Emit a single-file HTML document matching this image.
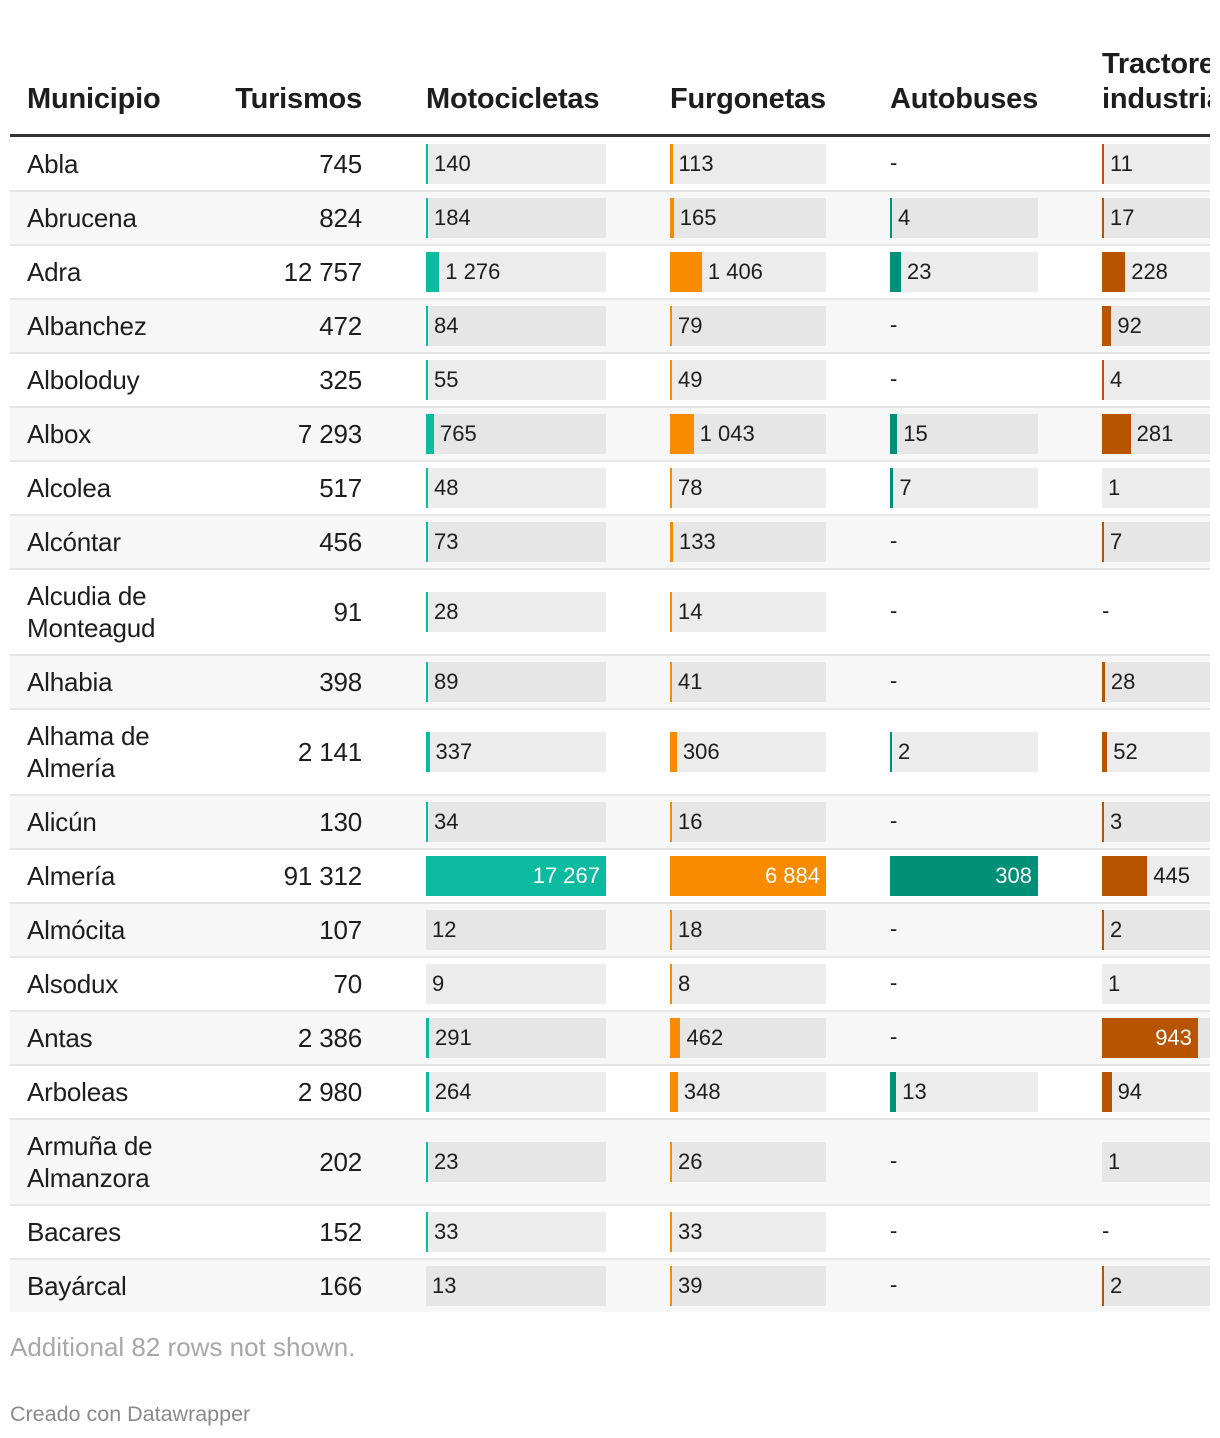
<!DOCTYPE html>
<html><head><meta charset="utf-8">
<style>
body{margin:0;width:1220px;height:1438px;background:#fff;font-family:"Liberation Sans",Roboto,sans-serif;color:#1d1d1d;overflow:hidden;position:relative}
#tbl{position:absolute;left:10px;top:0;width:1200px;height:1312px;overflow:hidden}
.h{position:absolute;font-weight:bold;font-size:29px;line-height:35px;color:#1d1d1d;letter-spacing:-0.2px}
.row{position:absolute;left:0;width:1200px}
.txt{position:absolute;font-size:26px;letter-spacing:-0.2px}
.track{position:absolute;height:40px}
.bar{position:absolute;left:0;top:0;height:40px}
.lab{position:absolute;font-size:22px;line-height:40px;top:0;white-space:nowrap}
.dash{position:absolute;font-size:22px}
.note{position:absolute;left:10px;top:1332px;font-size:26px;color:#a8a8a8}
.credit{position:absolute;left:10px;top:1402px;font-size:21.5px;color:#8a8a8a}
</style></head><body>
<div id="tbl">
<div class="h" style="left:17px;top:82px">Municipio</div>
<div class="h" style="left:212px;top:82px;width:140px;text-align:right">Turismos</div>
<div class="h" style="left:416px;top:82px">Motocicletas</div>
<div class="h" style="left:660px;top:82px">Furgonetas</div>
<div class="h" style="left:880px;top:82px">Autobuses</div>
<div class="h" style="left:1092px;top:47px;white-space:nowrap">Tractores<br>industriales</div>
<div style="position:absolute;left:0;top:134px;width:1200px;height:3px;background:#333"></div>
</div>
<div class="note">Additional 82 rows not shown.</div>
<div class="credit">Creado con Datawrapper</div>
<script>
const municipios=["Abla","Abrucena","Adra","Albanchez","Alboloduy","Albox","Alcolea","Alcóntar","Alcudia de Monteagud","Alhabia","Alhama de Almería","Alicún","Almería","Almócita","Alsodux","Antas","Arboleas","Armuña de Almanzora","Bacares","Bayárcal"];
const twoLine=[0,0,0,0,0,0,0,0,1,0,1,0,0,0,0,0,0,1,0,0];
const turismos=[745,824,12757,472,325,7293,517,456,91,398,2141,130,91312,107,70,2386,2980,202,152,166];
const motos=[140,184,1276,84,55,765,48,73,28,89,337,34,17267,12,9,291,264,23,33,13];
const furgonetas=[113,165,1406,79,49,1043,78,133,14,41,306,16,6884,18,8,462,348,26,33,39];
const autobuses=[null,4,23,null,null,15,7,null,null,null,2,null,308,null,null,null,13,null,null,null];
const tractores=[11,17,228,92,4,281,1,7,null,28,52,3,445,2,1,943,94,1,null,2];
const fmt=v=>String(v).replace(/\B(?=(\d{3})+(?!\d))/g,' ');
const cols=[
 {data:motos,x:416,w:180,max:17267,color:'#0bbba0',name:'motocicletas'},
 {data:furgonetas,x:660,w:156,max:6884,color:'#f98b00',name:'furgonetas'},
 {data:autobuses,x:880,w:148,max:308,color:'#009078',name:'autobuses'},
 {data:tractores,x:1092,w:200,max:943*200/96,color:'#b85400',name:'tractores'}
];
const tbl=document.getElementById('tbl');
let y=138;
municipios.forEach((m,i)=>{
  const h=twoLine[i]?86:54;
  const row=document.createElement('div');
  
  
  row.className='row';
  const grey=i%2===1;
  row.style.top=y+'px';row.style.height=(h-2)+'px';
  row.style.background=grey?'#f7f7f7':'#fff';
  row.style.borderBottom='2px solid #e6e6e6';
  const c=(h-2)/2;
  const name=document.createElement('div');
  
  
  name.className='txt';
  name.style.left='17px';name.style.lineHeight='32px';
  name.style.top=(twoLine[i]?c-32:c-16)+'px';
  name.innerHTML=twoLine[i]?m.replace(/ (\S+)$/,'<br>$1'):m;
  row.appendChild(name);
  const t=document.createElement('div');
  
  
  t.className='txt';
  t.style.left='222px';t.style.width='130px';t.style.textAlign='right';
  t.style.lineHeight='32px';t.style.top=(c-16)+'px';
  t.textContent=fmt(turismos[i]);
  row.appendChild(t);
  const trackBg=grey?'#e6e6e6':'#ececec';
  cols.forEach(col=>{
    const v=col.data[i];
    if(v===null){
      const d=document.createElement('div');
      
      
      d.className='dash';d.style.left=col.x+'px';
      d.style.top=(c-14)+'px';d.textContent='-';
      row.appendChild(d);return;
    }
    const tr=document.createElement('div');
    
    
    tr.className='track';tr.style.left=col.x+'px';tr.style.width=col.w+'px';
    tr.style.top=(c-20)+'px';tr.style.background=trackBg;
    let w=v*col.w/col.max;
    if(w<0.15)w=0;else if(w<2)w=2;
    if(w>0){
      const b=document.createElement('div');
      
      
      b.className='bar';b.style.width=w+'px';b.style.background=col.color;
      tr.appendChild(b);
    }
    const l=document.createElement('div');
    
    
    l.className='lab';l.textContent=fmt(v);
    if(w>70){l.style.right=(col.w-w+6)+'px';l.style.color='#fff';}
    else{l.style.left=(w+6)+'px';}
    tr.appendChild(l);
    row.appendChild(tr);
  });
  tbl.appendChild(row);
  y+=h;
});
</script>
</body></html>
